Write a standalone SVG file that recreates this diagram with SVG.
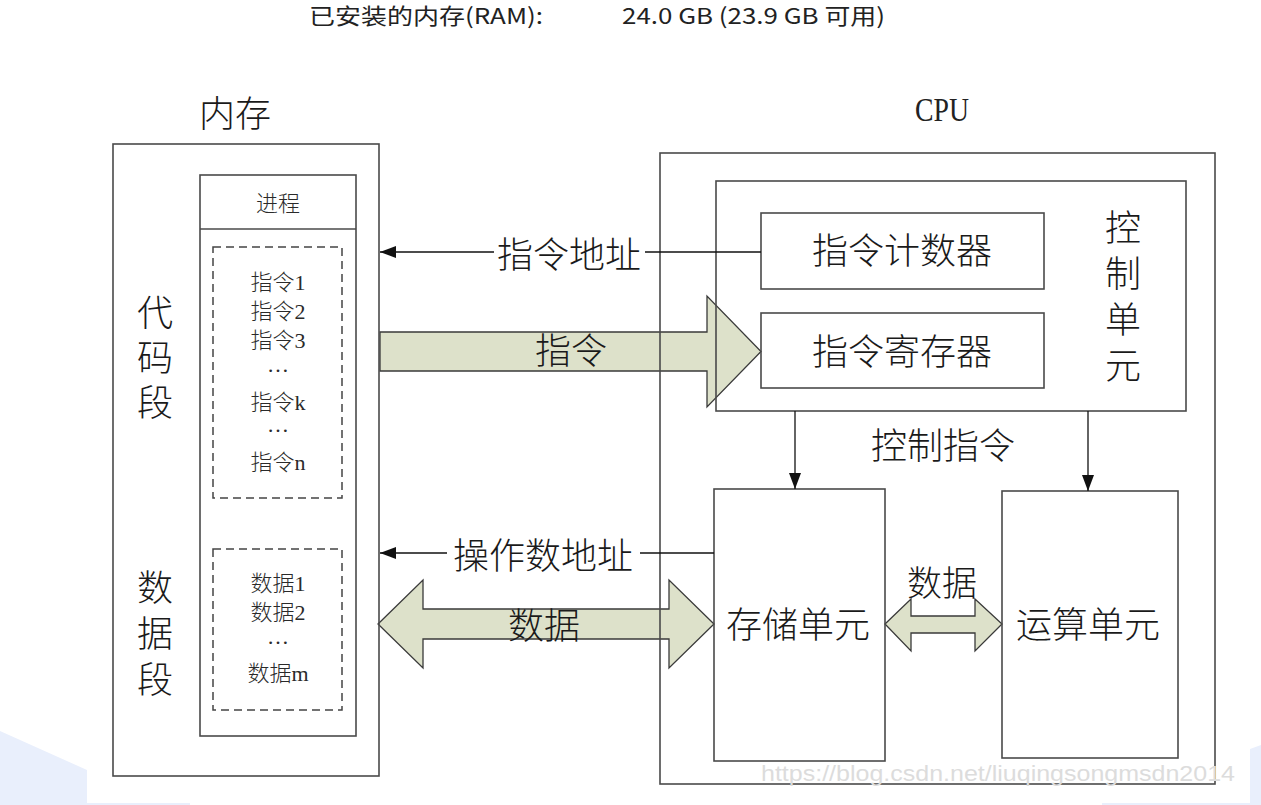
<svg xmlns="http://www.w3.org/2000/svg" width="1261" height="805" viewBox="0 0 1261 805">
<defs>
<style>
.box{fill:none;stroke:#4a4a4a;stroke-width:1.6}
.dash{fill:none;stroke:#444;stroke-width:1.5;stroke-dasharray:8 5}
.fat{fill:#dde1ca;stroke:#3a3a3a;stroke-width:1.3;stroke-linejoin:miter}
.ln{stroke:#111;stroke-width:1.3;fill:none}
.cn{font-family:'Noto Sans CJK SC',sans-serif;font-weight:300;fill:#1a1a1a;text-anchor:middle;dominant-baseline:central}
.sr{font-family:'Liberation Serif','Noto Sans CJK SC',serif;font-weight:300;fill:#2a2a2a;text-anchor:middle;dominant-baseline:central;font-size:22px}
.big{font-size:36px}
.bg{fill:#e9effc}
</style>
<marker id="ah" markerUnits="userSpaceOnUse" markerWidth="16" markerHeight="12" refX="16" refY="6" orient="auto">
<path d="M0,0 L16,6 L0,12 z" fill="#111"/>
</marker>
</defs>
<rect width="1261" height="805" fill="#ffffff"/>
<g id="background">
<polygon class="bg" points="0,731 87,770 87,803 190,803 190,805 0,805"/>
<polygon class="bg" points="1250,749 1261,745 1261,805 1102,805 1102,803 1250,803"/>
</g>
<g id="header">
<text x="309" y="14" font-family="'Noto Sans CJK SC',sans-serif" font-size="22" fill="#222" dominant-baseline="central" textLength="234" lengthAdjust="spacingAndGlyphs">已安装的内存(RAM):</text>
<text x="622" y="14" font-family="'Noto Sans CJK SC',sans-serif" font-size="22" fill="#222" dominant-baseline="central" textLength="263" lengthAdjust="spacingAndGlyphs">24.0 GB (23.9 GB 可用)</text>
</g>
<g id="fat-arrows">
<polygon class="fat" points="380,332 707,332 707,296 761,351.5 707,407 707,371 380,371"/>
<polygon class="fat" points="378,624 423,580 423,609 669,609 669,580 714,624 669,668 669,639 423,639 423,668"/>
<polygon class="fat" points="885,624 911,599 911,616 975,616 975,599 1002,624 975,651 975,633 911,633 911,651"/>
</g>
<g id="memory">
<text class="cn big" x="235" y="111">内存</text>
<rect class="box" x="113" y="144" width="266" height="632"/>
</g>
<g id="process">
<rect class="box" x="200" y="175" width="156" height="561"/>
<line class="box" x1="200" y1="229" x2="356" y2="229"/>
<text class="sr" x="278" y="203">进程</text>
</g>
<g id="code-segment">
<text class="cn big" x="155" y="310">代</text>
<text class="cn big" x="155" y="355">码</text>
<text class="cn big" x="155" y="400">段</text>
<rect class="dash" x="213" y="247" width="129" height="251"/>
<text class="sr" x="278" y="282">指令1</text>
<text class="sr" x="278" y="311">指令2</text>
<text class="sr" x="278" y="340">指令3</text>
<text class="sr" x="278" y="364">…</text>
<text class="sr" x="278" y="402">指令k</text>
<text class="sr" x="278" y="424">…</text>
<text class="sr" x="278" y="462">指令n</text>
</g>
<g id="data-segment">
<text class="cn big" x="155" y="585">数</text>
<text class="cn big" x="155" y="631">据</text>
<text class="cn big" x="155" y="677">段</text>
<rect class="dash" x="213" y="549" width="129" height="161"/>
<text class="sr" x="278" y="583">数据1</text>
<text class="sr" x="278" y="612">数据2</text>
<text class="sr" x="278" y="636">…</text>
<text class="sr" x="278" y="673">数据m</text>
</g>
<g id="cpu">
<text x="942" y="121" font-family="'Liberation Serif',serif" font-size="34" fill="#222" text-anchor="middle" textLength="54" lengthAdjust="spacingAndGlyphs">CPU</text>
<rect class="box" x="660" y="153" width="555" height="631"/>
</g>
<g id="control-unit">
<rect class="box" x="716" y="181" width="470" height="230"/>
<text class="cn big" x="1123" y="225">控</text>
<text class="cn big" x="1123" y="271">制</text>
<text class="cn big" x="1123" y="317">单</text>
<text class="cn big" x="1123" y="363">元</text>
</g>
<g id="program-counter">
<rect class="box" x="761" y="213" width="283" height="76"/>
<text class="cn big" x="902" y="248">指令计数器</text>
</g>
<g id="instruction-register">
<rect class="box" x="761" y="313" width="283" height="75"/>
<text class="cn big" x="902" y="349">指令寄存器</text>
</g>
<g id="storage-unit">
<rect class="box" x="714" y="489" width="171" height="272"/>
<text class="cn big" x="798" y="622">存储单元</text>
</g>
<g id="alu">
<rect class="box" x="1002" y="491" width="176" height="267"/>
<text class="cn big" x="1088" y="622">运算单元</text>
</g>
<g id="connectors">
<line class="ln" x1="494" y1="252" x2="380" y2="252" marker-end="url(#ah)"/>
<line class="ln" x1="645" y1="252" x2="761" y2="252"/>
<text class="cn big" x="569" y="252">指令地址</text>
<text class="cn big" x="571" y="348">指令</text>
<line class="ln" x1="795" y1="411" x2="795" y2="489" marker-end="url(#ah)"/>
<line class="ln" x1="1088" y1="411" x2="1088" y2="491" marker-end="url(#ah)"/>
<text class="cn big" x="943" y="443">控制指令</text>
<line class="ln" x1="447" y1="553" x2="380" y2="553" marker-end="url(#ah)"/>
<line class="ln" x1="640" y1="553" x2="714" y2="553"/>
<text class="cn big" x="543" y="553">操作数地址</text>
<text class="cn big" x="544" y="623">数据</text>
<text class="cn" font-size="35" x="942" y="580">数据</text>
</g>
<g id="watermark">
<text x="761" y="781" font-family="'Liberation Sans',sans-serif" font-size="22" fill="#dcdcdc" textLength="474" lengthAdjust="spacingAndGlyphs">https://blog.csdn.net/liuqingsongmsdn2014</text>
</g>
</svg>
